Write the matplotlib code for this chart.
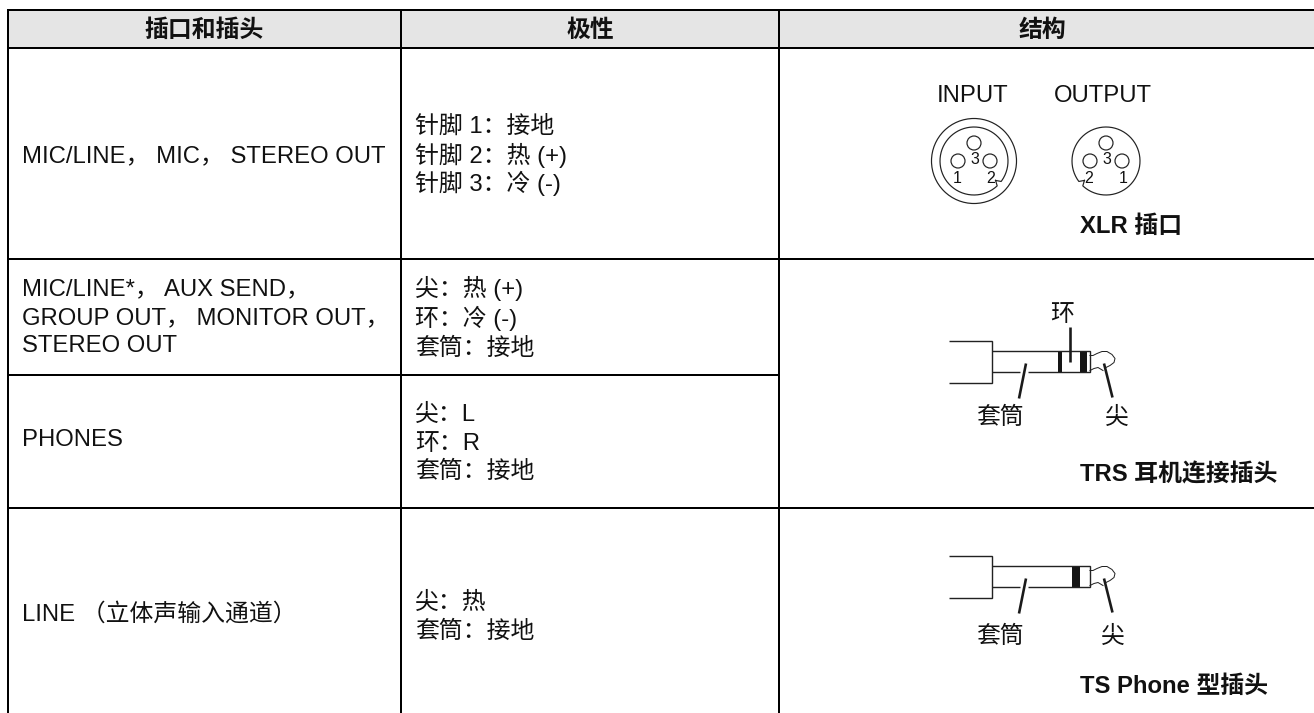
#! /usr/bin/env python3
import numpy
import matplotlib
matplotlib.use("Agg")
import matplotlib.pyplot as plt
from matplotlib.patches import Circle, Rectangle

plt.rcParams["font.family"] = ["Liberation Sans", "Noto Sans CJK SC", "DejaVu Sans"]

W, H = 1314, 713

HEADERS = ["插口和插头", "极性", "结构"]
JACKS = [
    ["MIC/LINE， MIC， STEREO OUT"],
    ["MIC/LINE*， AUX SEND，", "GROUP OUT， MONITOR OUT，", "STEREO OUT"],
    ["PHONES"],
    ["LINE （立体声输入通道）"],
]
POLARITY = [
    ["针脚 1：接地", "针脚 2：热 (+)", "针脚 3：冷 (-)"],
    ["尖：热 (+)", "环：冷 (-)", "套筒：接地"],
    ["尖：L", "环：R", "套筒：接地"],
    ["尖：热", "套筒：接地"],
]
CAPTIONS = ["XLR 插口", "TRS 耳机连接插头", "TS Phone 型插头"]

# layout, in reference pixels
COL_X = [8, 401, 779, W]
HEAD_Y = [10, 48]
ROW_Y = [259, 375, 508]
JACK_Y = [[154], [287, 316, 344], [438], [612]]
POL_Y = [[125, 155, 183], [288, 318, 347], [413, 442, 470], [601, 630]]
FS = 17.2
INK = "#111111"
THIN = "#222222"


def px(v):
    """Pixels to points, at 100 dpi."""
    return v * 0.72


def line(xs, ys, lw=2.0, color="black"):
    ax.plot(xs, ys, color=color, lw=px(lw), solid_capstyle="butt", solid_joinstyle="miter")


def label(x, y, s, ha="left", size=FS, **kw):
    # y is the middle of the line, drawn from the baseline so that mixed scripts stay level
    ax.text(x, y + size * 0.48, s, ha=ha, va="baseline", fontsize=size, color=INK, **kw)


def xlr(cx, cy, outer, labels, notch):
    r = 34
    if outer:
        ax.add_patch(Circle((cx, cy), 42.5, fill=False, ec=THIN, lw=px(1.2)))
    a = numpy.radians(numpy.linspace(notch + 5, notch + 355, 200))
    xs = cx + r * numpy.cos(a)
    ys = cy + r * numpy.sin(a)
    na = numpy.radians(notch)
    mx, my = cx + (r - 5) * numpy.cos(na), cy + (r - 5) * numpy.sin(na)
    ax.plot(numpy.r_[mx, xs, mx], numpy.r_[my, ys, my], color=THIN, lw=px(1.2))
    for dx, dy in [(0, -18), (-16, 0), (16, 0)]:
        ax.add_patch(Circle((cx + dx, cy + dy), 7, fill=False, ec=THIN, lw=px(1.2)))
    label(cx + 1, cy - 3, "3", ha="center", size=11.5)
    label(cx - 17, cy + 16, labels[0], ha="center", size=11.5)
    label(cx + 17, cy + 16, labels[1], ha="center", size=11.5)


def plug(top, bands, ring):
    # top is the y of the upper edge of the handle
    bot = top + 42
    s1, s2 = top + 9.5, top + 31
    line([949, 992, 992, 949], [top, top, bot, bot], 1.4, THIN)
    line([992, 1090, 1090, 1028], [s1, s1, s2, s2], 1.4, THIN)
    line([992, 1020], [s2, s2], 1.4, THIN)
    for x0, x1 in bands:
        ax.add_patch(Rectangle((x0, s1), x1 - x0, s2 - s1, fc="#151515", ec="none"))
    ax.plot([1090, 1093, 1097, 1102, 1107, 1112, 1115, 1114, 1110, 1106],
            s1 + numpy.array([5, 5, 3, 1, 1, 4, 8, 12, 15, 17]), color=THIN, lw=px(1.0))
    ax.plot([1090, 1094, 1098, 1103], s1 + numpy.array([20, 18, 17, 20]), color=THIN, lw=px(1.0))
    line([1026, 1019], [s1 + 13, s1 + 48], 2.6, "#1a1a1a")
    line([1104, 1112.5], [s1 + 13, s1 + 47], 2.6, "#1a1a1a")
    if ring:
        line([1070, 1070], [s1 - 24, s1 + 11], 2.6, "#1a1a1a")


fig = plt.figure(figsize=(W / 100, H / 100), dpi=100)
ax = fig.add_axes([0, 0, 1, 1])
ax.set_xlim(0, W)
ax.set_ylim(H, 0)
ax.axis("off")

ax.add_patch(Rectangle((COL_X[0], HEAD_Y[0]), W - COL_X[0], HEAD_Y[1] - HEAD_Y[0], fc="#e5e5e5", ec="none"))
label(204, 29, HEADERS[0], ha="center", fontweight="bold")
label(590, 29, HEADERS[1], ha="center", fontweight="bold")
label(1042, 29, HEADERS[2], ha="center", fontweight="bold")

line([7, W], [HEAD_Y[0], HEAD_Y[0]])
line([7, W], [HEAD_Y[1], HEAD_Y[1]])
line([COL_X[0], W], [ROW_Y[0], ROW_Y[0]])
line([COL_X[0], COL_X[2]], [ROW_Y[1], ROW_Y[1]])
line([COL_X[0], W], [ROW_Y[2], ROW_Y[2]])
for x in COL_X[:3]:
    line([x, x], [HEAD_Y[0], H])

for rows, ys in zip(JACKS, JACK_Y):
    for s, y in zip(rows, ys):
        label(22, y, s)
for rows, ys in zip(POLARITY, POL_Y):
    for s, y in zip(rows, ys):
        label(415, y, s)

label(973, 94, "INPUT", ha="center")
label(1103, 94, "OUTPUT", ha="center")
xlr(974, 161, True, ["1", "2"], 42)
xlr(1106, 161, False, ["2", "1"], 138)

plug(341, [(1058, 1062), (1080, 1087)], True)
plug(556, [(1072, 1080)], False)

label(1062, 313, "环", ha="center")
label(1000, 416, "套筒", ha="center")
label(1117, 416, "尖", ha="center")
label(1000, 635, "套筒", ha="center")
label(1113, 635, "尖", ha="center")

label(1080, 225, CAPTIONS[0], fontweight="bold")
label(1080, 473, CAPTIONS[1], fontweight="bold")
label(1080, 685, CAPTIONS[2], fontweight="bold")

fig.savefig("out.png", dpi=100)
